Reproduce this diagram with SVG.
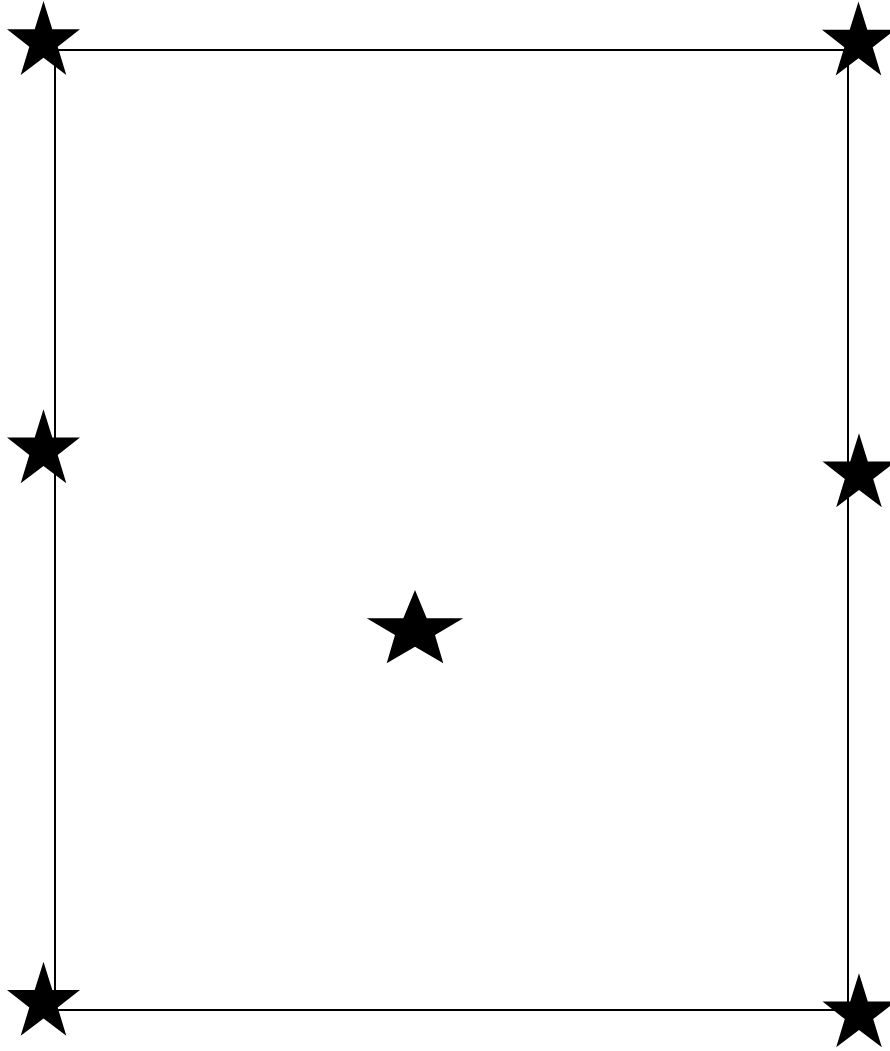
<svg xmlns="http://www.w3.org/2000/svg" width="890" height="1051" viewBox="0 0 890 1051">
<style>
.frame{fill:none;stroke:#000;stroke-width:2}
.star{fill:#000;stroke:none}
</style>
<defs>
<path id="s" d="M0,0 L8.8,28.3 L36.5,28.3 L14.2,45.8 L22.8,74 L0,56.7 L-22.8,74 L-14.2,45.8 L-36.5,28.3 L-8.8,28.3 Z"/>
</defs>
<rect width="890" height="1051" fill="#fff"/>
<g id="connectors">
<polygon class="frame" points="55,50 848,50 848,1010 55,1010"/>
</g>
<g id="star-top-left"><use href="#s" class="star" x="43.5" y="1"/></g>
<g id="star-top-right"><use href="#s" class="star" x="858.5" y="1.5"/></g>
<g id="star-mid-left"><use href="#s" class="star" x="43.5" y="409.3"/></g>
<g id="star-mid-right"><use href="#s" class="star" x="859" y="433.3"/></g>
<g id="star-center"><path class="star" d="M415,590 L426.7,618.3 L463.3,618.3 L435,635 L443.3,663.3 L415,646.7 L386.7,663.3 L395,635 L366.7,618.3 L403.3,618.3 Z"/></g>
<g id="star-bottom-left"><use href="#s" class="star" x="43.5" y="961.7"/></g>
<g id="star-bottom-right"><use href="#s" class="star" x="859" y="973.3"/></g>
</svg>
